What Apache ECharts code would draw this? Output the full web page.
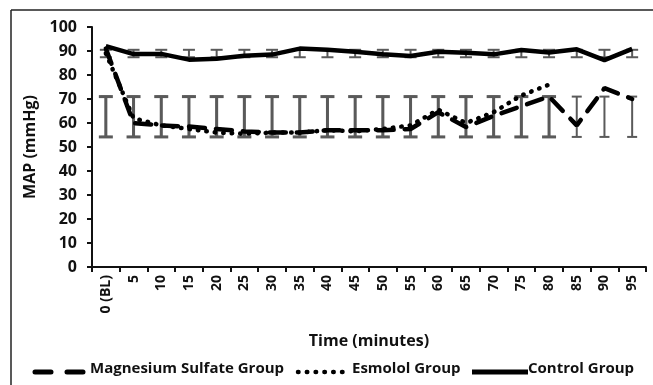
<!DOCTYPE html>
<html>
<head>
<meta charset="utf-8">
<script src="https://cdn.jsdelivr.net/npm/echarts@6/dist/echarts.min.js"></script>
<style>
html,body{margin:0;padding:0;background:#fff;}
#chart{width:653px;height:385px;}
</style>
</head>
<body>
<div id="chart"></div>
<script>
const categories = ['0 (BL)','5','10','15','20','25','30','35','40','45','50','55','60','65','70','75','80','85','90','95'];
const yTicks = [0,10,20,30,40,50,60,70,80,90,100];
const magnesium = [91, 60, 59, 58.5, 57.5, 56.5, 56, 56, 57, 57, 57, 57.5, 64.5, 58.3, 63, 67, 71, 59, 74.5, 70];
const esmolol = [89, 62, 59, 57.5, 56, 55.5, 56, 56, 57, 56.5, 57.5, 59, 65.5, 60, 64.5, 71.5, 76, null, null, null];
const control = [92, 88.7, 88.8, 86.4, 86.8, 88, 88.5, 91, 90.5, 89.7, 88.6, 87.9, 89.7, 89.3, 88.6, 90.4, 89.4, 90.7, 86.2, 90.9];
const magErrLow = [54.2,54.2,54.2,54.2,54.2,54.2,54.2,54.2,54.2,54.2,54.2,54.2,54.2,54.2,54.2,54.2,54.2,54.2,54.2,54.2];
const magErrHigh = [71,71,71,71,71,71,71,71,71,71,71,71,71,71,71,71,71,71,71,71];
const esmErrLow = [54.2,54.2,54.2,54.2,54.2,54.2,54.2,54.2,54.2,54.2,54.2,54.2,54.2,54.2,54.2,54.2,54.2,null,null,null];
const esmErrHigh = [71,71,71,71,71,71,71,71,71,71,71,71,71,71,71,71,71,null,null,null];
const ctlErrLow = [87.4,87.4,87.4,87.4,87.4,87.4,87.4,87.4,87.4,87.4,87.4,87.4,87.4,87.4,87.4,87.4,87.4,87.4,87.4,87.4];
const ctlErrHigh = [90.5,90.5,90.5,90.5,90.5,90.5,90.5,90.5,90.5,90.5,90.5,90.5,90.5,90.5,90.5,90.5,90.5,90.5,90.5,90.5];
const legendNames = ['Magnesium Sulfate Group', 'Esmolol Group', 'Control Group'];

const FONT = 'Open Sans';
const TXT = '#111';
const chart = echarts.init(document.getElementById('chart'), null, {renderer:'canvas'});

function errSeries(low, high, capHalf, width, z) {
  const data = [];
  for (let i = 0; i < categories.length; i++) {
    if (low[i] != null && high[i] != null) data.push([i, low[i], high[i]]);
  }
  return {
    type: 'custom',
    silent: true,
    z: z,
    data: data,
    encode: {x: 0, y: [1, 2]},
    renderItem: function (params, api) {
      const x = api.value(0);
      const lo = api.coord([x, api.value(1)]);
      const hi = api.coord([x, api.value(2)]);
      const style = {stroke: '#5a5a5a', lineWidth: width};
      return {
        type: 'group',
        children: [
          {type: 'line', shape: {x1: lo[0], y1: lo[1], x2: hi[0], y2: hi[1]}, style: style},
          {type: 'line', shape: {x1: lo[0]-capHalf, y1: lo[1], x2: lo[0]+capHalf, y2: lo[1]}, style: style},
          {type: 'line', shape: {x1: hi[0]-capHalf, y1: hi[1], x2: hi[0]+capHalf, y2: hi[1]}, style: style}
        ]
      };
    }
  };
}

const LEG_Y = 372;
const legendFont = 'bold 15px "Open Sans"';
const legendGraphics = [
  {type: 'line', shape: {x1: 35, y1: LEG_Y, x2: 86, y2: LEG_Y}, style: {stroke: '#000', lineWidth: 5, lineDash: [16, 16], lineCap: 'round'}},
  {type: 'text', left: 90, top: LEG_Y - 11, style: {text: legendNames[0], font: legendFont, fill: TXT}},
  {type: 'line', shape: {x1: 298, y1: LEG_Y, x2: 348, y2: LEG_Y}, style: {stroke: '#000', lineWidth: 4.5, lineDash: [0.5, 8.3], lineCap: 'round'}},
  {type: 'text', left: 352, top: LEG_Y - 11, style: {text: legendNames[1], font: legendFont, fill: TXT}},
  {type: 'line', shape: {x1: 472, y1: LEG_Y, x2: 528, y2: LEG_Y}, style: {stroke: '#000', lineWidth: 5}},
  {type: 'text', left: 528, top: LEG_Y - 11, style: {text: legendNames[2], font: legendFont, fill: TXT}}
];

const option = {
  backgroundColor: '#fff',
  animation: false,
  grid: {left: 92, right: 7, top: 27, bottom: 118, containLabel: false},
  xAxis: {
    type: 'category',
    data: categories,
    boundaryGap: true,
    name: 'Time (minutes)',
    nameLocation: 'middle',
    nameGap: 66,
    nameTextStyle: {fontFamily: FONT, fontWeight: 'bold', fontSize: 16, color: TXT},
    axisLine: {lineStyle: {color: '#111', width: 2}},
    axisTick: {show: true, alignWithLabel: false, length: 5, lineStyle: {color: '#111', width: 2}},
    axisLabel: {rotate: 90, margin: 8, interval: 0, fontFamily: FONT, fontWeight: 'bold', fontSize: 14, color: TXT},
    splitLine: {show: false}
  },
  yAxis: {
    type: 'value',
    min: yTicks[0],
    max: yTicks[yTicks.length-1],
    interval: 10,
    name: 'MAP (mmHg)',
    nameLocation: 'middle',
    nameGap: 53,
    nameTextStyle: {fontFamily: FONT, fontWeight: 'bold', fontSize: 16, color: TXT},
    axisLine: {show: true, lineStyle: {color: '#111', width: 2}},
    axisTick: {show: true, length: 5, lineStyle: {color: '#111', width: 2}},
    axisLabel: {margin: 15, fontFamily: FONT, fontWeight: 'bold', fontSize: 16, color: TXT},
    splitLine: {show: false}
  },
  graphic: [
    {type: 'line', shape: {x1: 11, y1: 10, x2: 653, y2: 10}, style: {stroke: '#222', lineWidth: 1.5}},
    {type: 'line', shape: {x1: 11, y1: 10, x2: 11, y2: 385}, style: {stroke: '#222', lineWidth: 1.5}}
  ].concat(legendGraphics),
  series: [
    errSeries(magErrLow, magErrHigh, 5, 2, 1),
    errSeries(esmErrLow, esmErrHigh, 7, 3, 1),
    errSeries(ctlErrLow, ctlErrHigh, 6, 2, 1),
    {
      name: legendNames[0], type: 'line', data: magnesium, symbol: 'none', z: 3,
      lineStyle: {color: '#000', width: 4.5, type: [16, 11], cap: 'round'}
    },
    {
      name: legendNames[1], type: 'line', data: esmolol, symbol: 'none', z: 3, connectNulls: false,
      lineStyle: {color: '#000', width: 4.5, type: [0.5, 8], cap: 'round'}
    },
    {
      name: legendNames[2], type: 'line', data: control, symbol: 'none', z: 3,
      lineStyle: {color: '#000', width: 4.5, type: 'solid'}
    }
  ]
};
chart.setOption(option);
</script>
</body>
</html>
